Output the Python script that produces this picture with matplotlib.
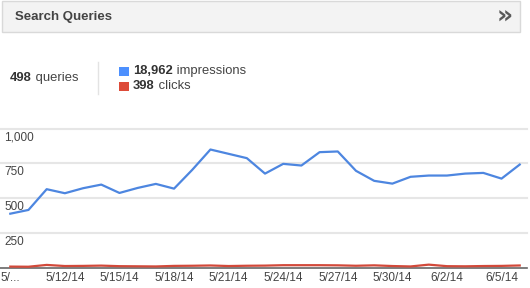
import matplotlib
matplotlib.use("Agg")
import matplotlib.pyplot as plt
from matplotlib.patches import Rectangle
import datetime as dt

plt.rcParams['font.family'] = ['Liberation Sans', 'DejaVu Sans']

# ---- data ----
dates = [dt.date(2014, 5, 9) + dt.timedelta(days=i) for i in range(29)]
impressions = [388, 415, 564, 535, 571, 597, 537, 573, 602, 568,
               703, 849, 818, 787, 676, 746, 734, 830, 835, 696,
               624, 604, 653, 662, 662, 676, 681, 640, 741]
clicks = [8, 7, 20, 12, 13, 15, 11, 10, 9, 13,
          14, 16, 12, 14, 15, 18, 18, 18, 17, 14,
          17, 12, 9, 22, 11, 10, 12, 13, 16]
ytick_vals = [250, 500, 750, 1000]
ytick_labels = ["250", "500", "750", "1,000"]
xtick_idx = list(range(0, 29, 3))
xtick_labels = ["5/..."] + [f"{d.month}/{d.day}/14" for d in dates[3::3]]
title = "Search Queries"
queries_total = "498"
impr_total = "18,962"
clicks_total = "398"

W, H = 530, 288
fig = plt.figure(figsize=(W / 100, H / 100), dpi=100)
fig.patch.set_facecolor('white')

def fx(x):
    return x / W

def fy(y):
    return 1 - y / H

# header bar
hdr = Rectangle((fx(1.5), fy(32)), fx(520) - fx(1.5), fy(1.5) - fy(32),
                transform=fig.transFigure, facecolor='#f3f3f3',
                edgecolor='#d9d9d9', linewidth=1)
fig.patches.append(hdr)
fig.text(fx(15), fy(17), title, fontsize=9.5, fontweight='bold',
         color='#444444', va='center', ha='left')
fig.text(fx(505), fy(16.5), "»", fontsize=18, fontweight='bold',
         color='#5a5a5a', va='center', ha='center', family='DejaVu Sans')

# stats
FS = 9.4
t1 = fig.text(fx(10), fy(78), queries_total, fontsize=FS, fontweight='bold',
              color='#333333', va='center', ha='left')
fig.add_artist(plt.Annotation(" queries", xy=(1, 0), xycoords=t1,
                              fontsize=FS, color='#444444', va='bottom', ha='left'))
fig.add_artist(plt.Line2D([fx(98), fx(98)], [fy(62), fy(94)],
                          transform=fig.transFigure, color='#e3e3e3', lw=1))

fig.patches.append(Rectangle((fx(119), fy(76)), fx(9.5), fy(66.5) - fy(76),
                             transform=fig.transFigure, facecolor='#4d90fe',
                             edgecolor='none'))
fig.patches.append(Rectangle((fx(119), fy(91)), fx(9.5), fy(81.5) - fy(91),
                             transform=fig.transFigure, facecolor='#dd4b39',
                             edgecolor='none'))
t2 = fig.text(fx(133), fy(71), impr_total, fontsize=FS, fontweight='bold',
              color='#333333', va='center', ha='left')
fig.add_artist(plt.Annotation(" impressions", xy=(1, 0), xycoords=t2,
                              fontsize=FS, color='#444444', va='bottom', ha='left'))
t3 = fig.text(fx(133), fy(86), clicks_total, fontsize=FS, fontweight='bold',
              color='#333333', va='center', ha='left')
fig.add_artist(plt.Annotation(" clicks", xy=(1, 0), xycoords=t3,
                              fontsize=FS, color='#444444', va='bottom', ha='left'))

# chart axes
ax_bottom = 267.7
ax_top = 128.5
ax = fig.add_axes([0, fy(ax_bottom), fx(527), (ax_bottom - ax_top) / H])
ax.set_facecolor('none')
x = list(range(len(dates)))
ax.set_xlim(-0.566, 28.4)
ax.set_ylim(0, 1000)

for v in ytick_vals:
    ax.axhline(v, color='#e6e6e6', lw=1.5, zorder=0, clip_on=False)
for v, lab in zip(ytick_vals, ytick_labels):
    ax.annotate(lab, xy=(0, v), xycoords=('axes fraction', 'data'),
                xytext=(4, -3), textcoords='offset pixels',
                fontsize=8.5, color='#444444', va='top', ha='left')

ax.plot(x, impressions, color='#4d86e0', lw=1.6, clip_on=False, zorder=3,
        solid_joinstyle='round')
ax.plot(x, clicks, color='#d2493a', lw=1.6, clip_on=False, zorder=3,
        solid_joinstyle='round')

for s in ['top', 'left', 'right']:
    ax.spines[s].set_visible(False)
ax.spines['bottom'].set_color('#666666')
ax.spines['bottom'].set_linewidth(1.2)
ax.spines['bottom'].set_zorder(2)
ax.set_yticks([])
ax.set_xticks(xtick_idx)
ax.set_xticklabels(xtick_labels, fontsize=8.5, color='#444444')
ax.tick_params(axis='x', length=0, pad=3)

fig.savefig("out.png", dpi=100, facecolor='white')
